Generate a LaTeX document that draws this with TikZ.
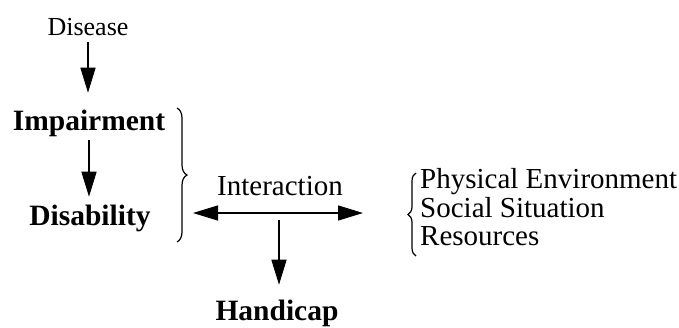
\documentclass[tikz,border=0pt]{standalone}
\usepackage{fontspec}
\setmainfont{Liberation Serif}
\usetikzlibrary{arrows.meta,decorations.pathreplacing}
\begin{document}
\begin{tikzpicture}[x=1pt,y=-1pt,
  lbl/.style={inner sep=0pt, anchor=base, font=\fontsize{29}{34}\selectfont},
  bl/.style={lbl, font=\fontsize{29.5}{34}\selectfont\bfseries},
  arr/.style={line width=1.4pt, -{Triangle[length=25pt,width=15pt]}},
  darr/.style={line width=1.4pt, {Triangle[length=25pt,width=15pt]}-{Triangle[length=25pt,width=15pt]}},
  brc/.style={decorate, decoration={brace, amplitude=#1}, line width=1.2pt}]
\useasboundingbox (0,0) rectangle (679,327);
\node[lbl, font=\fontsize{26}{30}\selectfont] (dis) at (88,35) {Disease};
\node[bl] (imp) at (89,130) {Impairment};
\node[bl] (dsb) at (90,225) {Disability};
\node[lbl] (int) at (280,195) {Interaction};
\node[bl] (han) at (277,320) {Handicap};
\node[lbl, anchor=base west] (phy) at (420,188) {Physical Environment};
\node[lbl, anchor=base west] (soc) at (420,217) {Social Situation};
\node[lbl, anchor=base west] (res) at (420,245) {Resources};
\coordinate (L) at (193,213);
\coordinate (R) at (363,213);
\coordinate (J) at (279,213);
\draw[arr, shorten <=7pt, shorten >=16.6pt] (dis.south) -- (dis.south |- imp.north);
\draw[arr, shorten <=3.6pt, shorten >=7.6pt] (imp.south) -- (imp.south |- dsb.north);
\draw[darr] (L) -- (R);
\draw[arr, shorten <=7pt, shorten >=14.6pt] (J) -- (J |- han.north);
\draw[brc=10pt] (177,108) -- (177,242);
\draw[brc=8pt] (416,256) -- (416,173);
\end{tikzpicture}
\end{document}
